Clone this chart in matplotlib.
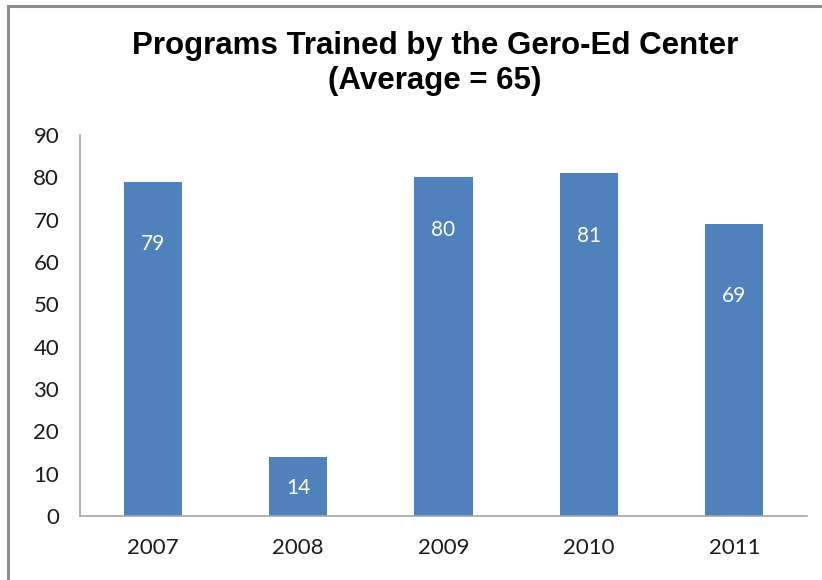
import matplotlib.pyplot as plt
from matplotlib.lines import Line2D

years = ['2007', '2008', '2009', '2010', '2011']
programs = [79, 14, 80, 81, 69]
yticks = [0, 10, 20, 30, 40, 50, 60, 70, 80, 90]

# how far below the bar top each value label sits (pixels), as in the original
label_drop = [62, 31, 53, 63, 72]

fig = plt.figure(figsize=(8.22, 5.8), dpi=100)
ax = fig.add_axes([0.0973, 0.1103, 0.8845, 0.6567])

x = range(len(years))
bars = ax.bar(x, programs, width=0.4, color='#4F81BD', zorder=2)

for b, v, d in zip(bars, programs, label_drop):
    ax.annotate(str(v), (b.get_x() + b.get_width() / 2, v),
                xytext=(0, -d * 0.72), textcoords='offset points',
                ha='center', va='center', color='white',
                fontsize=15, family='Lato')

ax.set_xlim(-0.5, len(years) - 0.5)
ax.set_ylim(0, 90)
ax.set_yticks(yticks)
ax.set_xticks(list(x))
ax.set_xticklabels(years)
ax.tick_params(axis='both', length=0, labelsize=16, colors='#1A1A1A')
ax.tick_params(axis='y', pad=15)
ax.tick_params(axis='x', pad=16)
for lab in ax.get_xticklabels() + ax.get_yticklabels():
    lab.set_family('Lato')

for s in ['top', 'right']:
    ax.spines[s].set_visible(False)
for s in ['left', 'bottom']:
    ax.spines[s].set_color('#A6A6A6')
    ax.spines[s].set_linewidth(1.2)

fig.text(0.529, 0.891, 'Programs Trained by the Gero-Ed Center\n(Average = 65)',
         ha='center', va='center', fontsize=22.5, fontweight='bold',
         family='Liberation Sans', linespacing=1.2)

# outer chart border (top and left edges are visible in the original)
fig.add_artist(Line2D([8 / 822, 1], [1 - 6 / 580, 1 - 6 / 580],
                      transform=fig.transFigure, color='#8C8C8C', lw=2.2))
fig.add_artist(Line2D([8 / 822, 8 / 822], [0, 1 - 6 / 580],
                      transform=fig.transFigure, color='#8C8C8C', lw=2.2))

fig.savefig('out.png', dpi=100)
